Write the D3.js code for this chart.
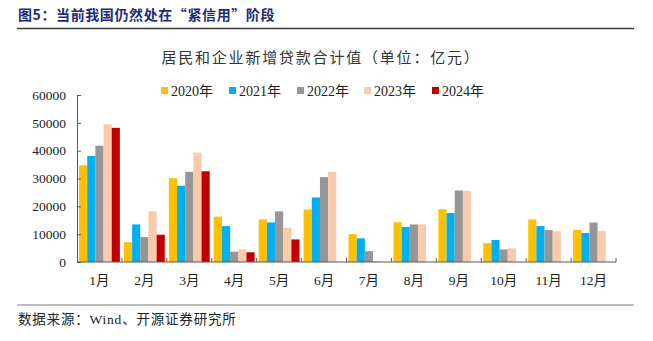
<!DOCTYPE html>
<html>
<head>
<meta charset="utf-8">
<script src="https://cdn.jsdelivr.net/npm/d3@7/dist/d3.min.js"></script>
<style>
  html, body { margin: 0; padding: 0; background: #fff; }
  svg { display: block; }
</style>
</head>
<body>
<svg id="chart" width="653" height="341"></svg>
<script>
// Monthly new household + corporate loans (亿元)
const months = ["1月","2月","3月","4月","5月","6月","7月","8月","9月","10月","11月","12月"];
const years = ["2020年","2021年","2022年","2023年","2024年"];
const colors = ["#FFC000","#00B0F0","#969696","#F8CBAD","#C00000"];
const v2020 = [34800, 7100, 30100, 16300, 15300, 18900, 10000, 14300, 19000, 6800, 15300, 11500];
const v2021 = [38100, 13500, 27400, 12900, 14200, 23200, 8500, 12600, 17600, 7900, 12900, 10400];
const v2022 = [41800, 9000, 32400, 3700, 18200, 30500, 3900, 13500, 25700, 4500, 11500, 14200];
const v2023 = [49400, 18200, 39300, 4500, 12300, 32400, 350, 13500, 25500, 4900, 11100, 11100];
const v2024 = [48200, 9800, 32600, 3500, 8100, null, null, null, null, null, null, null];
const yTicks = [0, 10000, 20000, 30000, 40000, 50000, 60000];

const series = [v2020, v2021, v2022, v2023, v2024];

const svg = d3.select("#chart");
const serif = "'Liberation Serif', 'Noto Sans CJK SC', serif";
const cjk = "'Noto Sans CJK SC', sans-serif";

// Header
svg.append("text")
  .attr("x", 18).attr("y", 20)
  .attr("font-family", cjk).attr("font-weight", "bold")
  .attr("font-size", 14).attr("letter-spacing", 0.6).attr("fill", "#1F2A7C")
  .text("图5：当前我国仍然处在“紧信用”阶段");
svg.append("line")
  .attr("x1", 17).attr("x2", 634).attr("y1", 28.5).attr("y2", 28.5)
  .attr("stroke", "#3a3a3a").attr("stroke-width", 1.5);

// Chart title
svg.append("text")
  .attr("x", 321).attr("y", 63)
  .attr("text-anchor", "middle")
  .attr("font-family", cjk).attr("font-size", 15).attr("letter-spacing", 1.8).attr("fill", "#333")
  .text("居民和企业新增贷款合计值（单位：亿元）");

// Plot area
const plotLeft = 77, plotRight = 616, plotTop = 95, plotBottom = 262;
const x = d3.scaleBand().domain(months).range([plotLeft, plotRight]).paddingInner(0).paddingOuter(0);
const y = d3.scaleLinear().domain([0, 60000]).range([plotBottom, plotTop]);
const inner = d3.scaleBand().domain(d3.range(series.length))
  .range([0, x.bandwidth()]).paddingOuter(0.25).paddingInner(0);

// Bars
series.forEach((vals, si) => {
  svg.append("g")
    .selectAll("rect")
    .data(months.map((m, i) => ({ m, v: vals[i] })).filter(d => d.v != null))
    .join("rect")
    .attr("x", d => x(d.m) + inner(si))
    .attr("width", inner.bandwidth())
    .attr("y", d => y(d.v))
    .attr("height", d => y(0) - y(d.v))
    .attr("fill", colors[si]);
});

// Y axis (ticks inside)
const yAxis = svg.append("g")
  .attr("transform", `translate(${plotLeft},0)`)
  .call(d3.axisRight(y).tickValues(yTicks).tickSize(4).tickFormat(d3.format("d")));
yAxis.select(".domain").attr("stroke", "#595959");
yAxis.selectAll(".tick line").attr("stroke", "#595959");
yAxis.selectAll(".tick text")
  .attr("x", -11).attr("text-anchor", "end")
  .attr("font-family", serif).attr("font-size", 13.5).attr("fill", "#222");

// X axis with boundary ticks pointing up
const xAxis = svg.append("g").attr("transform", `translate(0,${plotBottom})`);
xAxis.append("line")
  .attr("x1", plotLeft).attr("x2", plotRight).attr("y1", 0).attr("y2", 0)
  .attr("stroke", "#595959");
const bounds = months.map(m => x(m)).concat([plotRight]);
xAxis.selectAll("line.b").data(bounds.slice(1)).join("line")
  .attr("class", "b")
  .attr("x1", d => d).attr("x2", d => d).attr("y1", 0).attr("y2", -4)
  .attr("stroke", "#595959");
xAxis.selectAll("text").data(months).join("text")
  .attr("x", d => x(d) + x.bandwidth() / 2)
  .attr("y", 23)
  .attr("text-anchor", "middle")
  .attr("font-family", serif).attr("font-size", 13.5).attr("fill", "#222")
  .text(d => d);

// Legend
const legendX = [161, 229, 297, 364, 432];
const lg = svg.append("g");
years.forEach((yr, i) => {
  lg.append("rect").attr("x", legendX[i]).attr("y", 87).attr("width", 7).attr("height", 7).attr("fill", colors[i]);
  lg.append("text").attr("x", legendX[i] + 10).attr("y", 95.5)
    .attr("font-family", serif).attr("font-size", 14).attr("fill", "#222")
    .text(yr);
});

// Footer
svg.append("line")
  .attr("x1", 17).attr("x2", 634).attr("y1", 305).attr("y2", 305)
  .attr("stroke", "#7f7f7f").attr("stroke-width", 1);
svg.append("text")
  .attr("x", 18).attr("y", 324)
  .attr("font-family", serif).attr("font-size", 13.5).attr("letter-spacing", 0.8).attr("fill", "#222")
  .text("数据来源：Wind、开源证券研究所");
</script>
</body>
</html>
